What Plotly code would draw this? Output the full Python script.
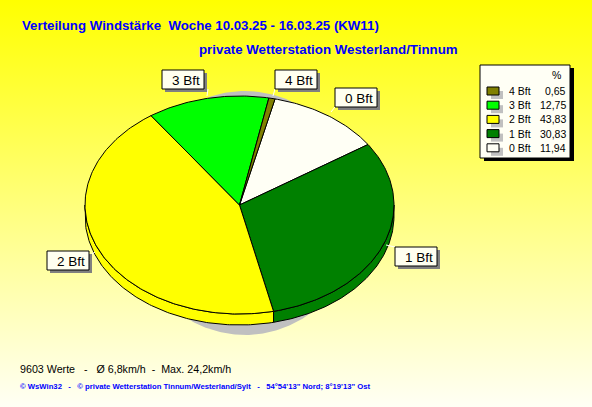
import numpy as np
import plotly.graph_objects as go

# ---- data ----
categories = ["0 Bft", "1 Bft", "2 Bft", "3 Bft", "4 Bft"]
percent = [11.94, 30.83, 43.83, 12.75, 0.65]
legend_order = ["4 Bft", "3 Bft", "2 Bft", "1 Bft", "0 Bft"]
legend_vals = ["0,65", "12,75", "43,83", "30,83", "11,94"]
title_1 = "Verteilung Windstärke  Woche 10.03.25 - 16.03.25 (KW11)"
title_2 = "private Wetterstation Westerland/Tinnum"
stat_line = "9603 Werte   -   Ø 6,8km/h  -  Max. 24,2km/h"
foot_line = "© WsWin32   -   © private Wetterstation Tinnum/Westerland/Sylt   -   54°54'13\" Nord; 8°19'13\" Ost"

# ---- style ----
colors = {"0 Bft": "#FFFFF5", "1 Bft": "#008000", "2 Bft": "#FFFF00", "3 Bft": "#00FF00", "4 Bft": "#808000"}
W, H = 592, 407
cx, cy, rx, ry, depth = 239.5, 205, 154.5, 109, 11
start = 13.3
BLUE = "#0000FF"
FONT = "Liberation Sans"

fig = go.Figure()

def poly(xs, ys, fill, line="black", width=1):
    fig.add_trace(go.Scatter(x=list(xs), y=list(ys), mode="lines", fill="toself", fillcolor=fill,
                             line=dict(color=line, width=width), hoverinfo="skip", showlegend=False))

# background gradient
fig.add_trace(go.Scatter(x=[0, W, W, 0, 0], y=[0, 0, H, H, 0], mode="lines", fill="toself",
                         line=dict(width=0), hoverinfo="skip", showlegend=False,
                         fillgradient=dict(type="vertical", colorscale=[[0, "#FFFFF5"], [1, "#FFFF00"]])))

# shadow
t = np.radians(np.linspace(0, 360, 361))
poly(245 + 115 * np.sin(t), 213 - 122 * np.cos(t), "#C0C0C0", line="#C0C0C0", width=0)

# slice angles
edges = start + np.concatenate([[0], np.cumsum(percent)]) * 360 / sum(percent)

# side wall
for i, cat in enumerate(categories):
    a, b = edges[i], edges[i + 1]
    for lo, hi in [(a, b), (a - 360, b - 360)]:
        lo2, hi2 = max(lo, 90), min(hi, 270)
        if lo2 < hi2:
            tt = np.radians(np.linspace(lo2, hi2, 120))
            xs = cx + rx * np.sin(tt)
            ys = cy - ry * np.cos(tt)
            poly(np.r_[xs, xs[::-1], xs[0]], np.r_[ys, ys[::-1] + depth, ys[0]], colors[cat])

# top surface
for i, cat in enumerate(categories):
    tt = np.radians(np.linspace(edges[i], edges[i + 1], max(3, int(percent[i] * 4))))
    xs = np.r_[cx, cx + rx * np.sin(tt), cx]
    ys = np.r_[cy, cy - ry * np.cos(tt), cy]
    poly(xs, ys, colors[cat])

shapes = []
anns = []

def text(x, y, s, size=11, color="black", anchor="left", bold=False):
    dx = {"left": -2, "right": 2, "center": 0}[anchor]
    anns.append(dict(x=x + dx, y=y, text=f"<b>{s}</b>" if bold else s, showarrow=False, xanchor=anchor, yanchor="middle",
                     font=dict(family=FONT, size=size, color=color), xref="x", yref="y"))

def rect(x0, y0, x1, y1, fill, line="rgba(0,0,0,0)", width=1):
    shapes.append(dict(type="rect", x0=x0, y0=y0, x1=x1, y1=y1, fillcolor=fill,
                       line=dict(color=line, width=width), layer="above"))

# slice labels (box, shadow, leader)
label_boxes = {"3 Bft": (162, 70, 204, 89), "4 Bft": (275, 70, 317, 89), "0 Bft": (335, 88, 377, 107),
               "1 Bft": (395, 247, 437, 266), "2 Bft": (47, 251, 89, 270)}
leaders = {"3 Bft": (207, 96, 208, 89), "4 Bft": (273, 96, 275, 89), "0 Bft": (331, 112, 335, 107),
           "1 Bft": (386, 245, 395, 247), "2 Bft": (95, 252, 89, 256)}
for cat in categories:
    x0, y0, x1, y1 = label_boxes[cat]
    lx0, ly0, lx1, ly1 = leaders[cat]
    shapes.append(dict(type="line", x0=lx0, y0=ly0, x1=lx1, y1=ly1, line=dict(color="white", width=1), layer="above"))
    rect(x0 + 3, y0 + 3, x1 + 3, y1 + 3, "#808080", "#808080", 0)
    rect(x0, y0, x1, y1, "#FFFFF0", "black", 1)
    text((x0 + x1) / 2 + 3, (y0 + y1) / 2 + 0.5, cat, 13.5, anchor="center")

# legend
rect(484, 68, 574, 161, "black", "black", 0)
rect(480, 65, 570, 158, "#FFFFF5", "black", 1)
text(561, 75, "%", 10.5, anchor="right")
for i, (cat, val) in enumerate(zip(legend_order, legend_vals)):
    y = 91 + i * 14.2
    rect(491, y, 503, y + 8, "#C0C0C0", "#C0C0C0", 0)
    rect(487, y - 4, 499, y + 4, colors[cat], "black", 1)
    text(509, y, cat, 10.5)
    text(566, y, val, 10.5, anchor="right")

# titles
text(22, 25, title_1, 13.25, BLUE, bold=True)
text(199, 49, title_2, 13.3, BLUE, bold=True)
text(20, 369, stat_line, 10.7)
text(20, 386, foot_line, 7.7, BLUE, bold=True)

fig.update_layout(
    width=W, height=H, margin=dict(l=0, r=0, t=0, b=0), showlegend=False,
    paper_bgcolor="white", plot_bgcolor="white", shapes=shapes, annotations=anns,
    xaxis=dict(range=[0, W], visible=False, fixedrange=True),
    yaxis=dict(range=[H, 0], visible=False, fixedrange=True),
)
fig.write_html("out.html", config={"displayModeBar": False},
               post_script="document.body.style.margin='0';document.body.style.overflow='hidden';")
